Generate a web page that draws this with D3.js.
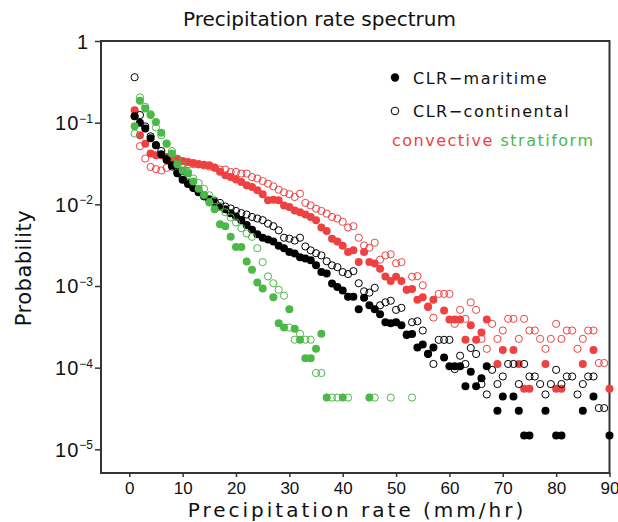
<!DOCTYPE html>
<html><head><meta charset="utf-8">
<script src="https://cdn.jsdelivr.net/npm/d3@7"></script>
<style>body{margin:0;background:#fff}</style>
</head><body><svg id="c" width="618" height="522"></svg>
<script>
// Precipitation-rate bins (mm/hr)
const rate = d3.range(1, 91);

// CLR-maritime convective (filled red)
const convMaritime = [
 0.142,0.07,0.055,0.042,0.040,0.040,0.038,0.037,0.036,0.034,
 0.033,0.032,0.031,0.0305,0.030,0.0282,0.025,0.0227,0.0216,0.0201,
 0.0188,0.0171,0.0163,0.0149,0.0133,0.0112,0.0114,0.0112,0.0097,0.0093,
 0.0084,0.0080,0.0075,0.0070,0.0064,0.0052,0.0047,0.0038,0.0035,0.0031,
 0.0026,0.00273,0.00196,0.0026,0.00196,0.00189,0.00163,0.00131,0.00115,0.0013,
 0.00115,0.0009,0.00092,0.00068,0.00073,0.00056,0.00068,null,0.0005,0.00039,
 0.00039,0.00039,0.00022,0.00033,0.00022,0.00027,0.00039,null,0.000111,0.000165,
 null,0.000165,0.000111,5.5e-5,5.5e-5,null,null,0.000111,null,5.5e-5,
 5.5e-5,null,null,null,0.000111,null,0.000165,null,null,5.5e-5];

// CLR-continental convective (open red)
const convContinental = [
 0.12,0.0515,0.0364,0.0287,0.027,0.026,0.028,0.030,0.0295,0.031,
 0.031,0.031,0.031,0.030,0.029,0.028,0.0267,0.0267,0.0249,0.0249,
 0.0238,0.0238,0.0216,0.0207,0.0193,0.0179,0.0166,0.0151,0.0140,0.0133,
 0.0123,0.0135,0.0104,0.0097,0.00885,0.0083,0.0077,0.0070,0.0067,0.0061,
 0.0052,0.0054,0.0039,0.00314,0.00294,0.00339,0.0021,0.00237,0.00244,0.0019,
 0.00196,0.0009,0.0013,0.00132,0.00102,0.00055,0.00041,0.0008,0.0008,0.0008,
 0.000344,0.00051,0.000396,0.00063,0.00051,0.000225,0.00017,0.000344,0.000225,0.000285,
 0.000396,0.000396,0.000225,0.000396,0.000285,0.000285,0.000225,0.00017,0.000225,0.000344,
 0.000225,0.000285,0.000285,0.00017,0.000225,0.000285,0.000285,0.000114,0.000114,null];

// CLR-maritime total (filled black)
const clrMaritime = [
 0.12,0.10,0.085,0.0645,0.053,0.041,0.035,0.030,0.024,0.020,
 0.0178,0.0158,0.0141,0.0127,0.0115,0.0105,0.0094,0.0087,0.0078,0.0071,
 0.0064,0.0056,0.0049,0.0043,0.0039,0.0037,0.0035,0.0031,0.0029,0.0026,
 0.0025,0.00225,0.00217,0.00206,0.00179,0.00148,0.00142,0.00107,0.00097,0.00088,
 0.00074,0.00074,0.00052,0.00072,0.00058,0.00052,0.00045,0.00036,0.00035,0.00036,
 0.00033,0.000254,0.000259,0.000177,0.000192,0.000148,0.000177,null,0.000133,0.000104,
 0.000104,0.000104,5.9e-5,8.9e-5,5.9e-5,7.4e-5,0.000104,null,2.96e-5,4.44e-5,
 null,4.44e-5,2.96e-5,1.48e-5,1.48e-5,null,null,2.96e-5,null,1.48e-5,
 1.48e-5,null,null,null,2.96e-5,null,4.44e-5,null,null,1.48e-5];

// CLR-continental total (open black)
const clrContinental = [
 0.36,0.124,0.09,0.068,0.053,0.045,0.036,0.029,0.025,0.021,
 0.0185,0.016,0.0142,0.0125,0.0112,0.0109,0.0104,0.0094,0.0089,0.0083,
 0.0078,0.0075,0.0070,0.0067,0.0064,0.0058,0.0054,0.0048,0.0039,0.0038,
 0.0036,0.0039,0.00305,0.00273,0.00252,0.00237,0.00201,0.00179,0.0017,0.00148,
 0.0014,0.00152,0.00108,0.00086,0.00083,0.00095,0.00058,0.00063,0.00066,0.00051,
 0.00054,0.00025,0.00036,0.00037,0.000285,0.000147,0.000111,0.000219,0.000219,0.000219,
 9.6e-5,0.00014,0.000111,0.000174,0.000147,6.3e-5,4.7e-5,9.4e-5,6.3e-5,7.8e-5,
 0.000111,0.000111,6.3e-5,0.000111,7.8e-5,7.8e-5,6.3e-5,4.7e-5,6.3e-5,9.4e-5,
 6.3e-5,7.8e-5,7.8e-5,4.7e-5,6.3e-5,7.8e-5,7.8e-5,3.2e-5,3.2e-5,null];

// stratiform maritime (filled green)
const stratMaritime = [
 0.0906,0.185,0.149,0.124,0.102,0.075,0.055,0.042,0.031,0.026,
 0.024,0.019,0.0155,0.013,0.0105,0.0087,0.0057,0.0054,0.0040,0.0030,
 0.0030,0.0020,0.00158,0.0011,0.00093,null,0.00073,0.00035,0.00031,0.00052,
 0.00030,0.00022,0.00013,0.00013,0.00017,0.00026,4.3e-5,null,null,4.3e-5,
 null,null,null,null,4.3e-5];

// stratiform continental (open green)
const stratContinental = [
 0.0737,0.204,0.156,0.127,0.0873,0.070,0.0556,0.0451,0.0364,0.0301,
 0.0249,0.0207,0.0182,0.0155,0.0129,0.0112,0.0094,0.0080,0.0069,0.0060,
 0.0051,0.0044,0.0040,0.0029,0.00196,0.00131,0.00108,0.0009,0.00076,0.00031,
 0.00022,0.00026,0.00022,0.00022,8.6e-5,8.6e-5,null,4.3e-5,4.3e-5,null,
 4.3e-5,null,null,null,null,4.3e-5,null,null,4.3e-5,null,
 null,null,4.3e-5];

const xTicks = [0,10,20,30,40,50,60,70,80,90];
const yTicks = [1, 1e-1, 1e-2, 1e-3, 1e-4, 1e-5];
const yTickBase = ["1","10","10","10","10","10"];
const yTickExp  = ["","−1","−2","−3","−4","−5"];

const RED = "#ee4242", GREEN = "#4cb848", BLACK = "#000";

const svg = d3.select("#c");
const m = {l:101, r:609.5, t:41, b:473};
const x = d3.scaleLinear().domain([-5.3, 90]).range([m.l, m.r]);
const y = d3.scaleLog().domain([Math.pow(10,-5.29), 1]).range([m.b, m.t]);

// title
svg.append("text").attr("x", 183).attr("y", 26)
  .attr("font-family","DejaVu Sans").attr("font-size",20).attr("letter-spacing",0)
  .attr("fill","#111").text("Precipitation rate spectrum");

// frame
svg.append("rect").attr("x",m.l).attr("y",m.t).attr("width",m.r-m.l).attr("height",m.b-m.t)
  .attr("fill","none").attr("stroke","#333").attr("stroke-width",2);

// x axis
const gx = svg.append("g").attr("transform",`translate(0,${m.b})`)
  .call(d3.axisBottom(x).tickValues(xTicks).tickSize(4).tickSizeOuter(0).tickPadding(5).tickFormat(d3.format("d")));
gx.select(".domain").remove();
gx.selectAll(".tick line").attr("stroke","#333").attr("stroke-width",1.5);
gx.selectAll(".tick text").attr("font-family","Liberation Sans").attr("font-size",17).attr("fill","#111");

// y axis
const gy = svg.append("g").attr("transform",`translate(${m.l},0)`)
  .call(d3.axisLeft(y).tickValues(yTicks).tickSize(6).tickSizeOuter(0).tickFormat(""));
gy.select(".domain").remove();
gy.selectAll(".tick line").attr("stroke","#333").attr("stroke-width",1.5);
yTicks.forEach((v,i) => {
  const t = svg.append("text").attr("x", i===0 ? 89 : 93).attr("y", y(v)+7.5)
    .attr("text-anchor","end").attr("font-family","Liberation Sans").attr("font-size",20)
    .attr("fill","#111");
  t.append("tspan").attr("letter-spacing",1).text(yTickBase[i]);
  if (yTickExp[i]) t.append("tspan").attr("dy",-7.5).attr("font-size",12).text(yTickExp[i]);
});

// axis titles
svg.append("text").attr("x", 357).attr("y", 517).attr("text-anchor","middle")
  .attr("font-family","DejaVu Sans").attr("font-size",20).attr("letter-spacing",3)
  .attr("fill","#111").text("Precipitation rate (mm/hr)");
svg.append("text").attr("transform","translate(31,268) rotate(-90)").attr("text-anchor","middle")
  .attr("font-family","DejaVu Sans").attr("font-size",21).attr("letter-spacing",0.5)
  .attr("fill","#111").text("Probability");

// points
const series = [
  {data: convMaritime, color: RED, filled: true},
  {data: convContinental, color: RED, filled: false},
  {data: clrMaritime, color: BLACK, filled: true},
  {data: clrContinental, color: BLACK, filled: false},
  {data: stratMaritime, color: GREEN, filled: true},
  {data: stratContinental, color: GREEN, filled: false}
];
const R = 4;
series.forEach(s => {
  const pts = rate.map((r,i) => ({r, v: s.data[i]})).filter(d => d.v != null);
  svg.append("g").selectAll("circle").data(pts).join("circle")
    .attr("cx", d => x(d.r)).attr("cy", d => y(d.v)).attr("r", s.filled ? R : R - 0.4)
    .attr("fill", s.filled ? s.color : "none")
    .attr("stroke", s.filled ? "none" : s.color)
    .attr("stroke-width", 1);
});

// legend
const lg = svg.append("g");
lg.append("circle").attr("cx",395).attr("cy",77.5).attr("r",4.2).attr("fill",BLACK);
lg.append("circle").attr("cx",395).attr("cy",111).attr("r",3.8).attr("fill","none").attr("stroke",BLACK).attr("stroke-width",1);
lg.append("text").attr("x",413).attr("y",83.5).attr("font-family","DejaVu Sans").attr("font-size",16)
  .attr("letter-spacing",1.5).attr("fill","#111").text("CLR−maritime");
lg.append("text").attr("x",413).attr("y",117).attr("font-family","DejaVu Sans").attr("font-size",16)
  .attr("letter-spacing",1.5).attr("fill","#111").text("CLR−continental");
const lt = lg.append("text").attr("x",392).attr("y",145.5).attr("font-family","DejaVu Sans").attr("font-size",16)
  .attr("letter-spacing",1.5);
lt.append("tspan").attr("fill",RED).text("convective ");
lt.append("tspan").attr("fill",GREEN).text("stratiform");
</script>
</body></html>
